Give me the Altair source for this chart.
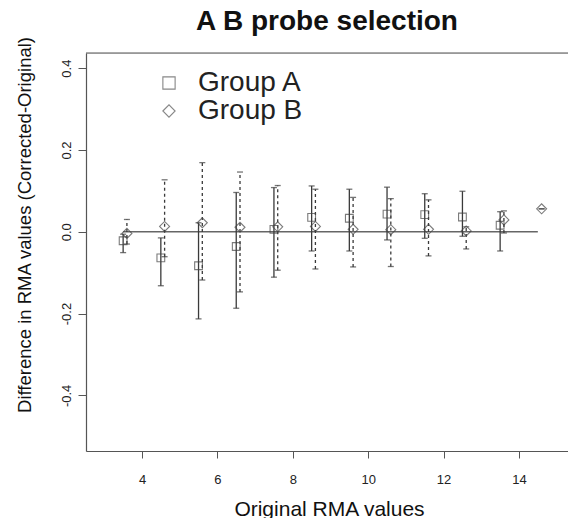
import altair as alt
import pandas as pd

# ---- data ----
xA = [3.5, 4.5, 5.5, 6.5, 7.5, 8.5, 9.5, 10.5, 11.5, 12.5, 13.5]
A_mean = [-0.022, -0.064, -0.083, -0.036, 0.006, 0.035, 0.033, 0.043, 0.042, 0.036, 0.016]
A_low = [-0.051, -0.132, -0.213, -0.187, -0.111, -0.047, -0.047, -0.020, -0.016, -0.011, -0.047]
A_high = [-0.006, -0.015, 0.022, 0.096, 0.108, 0.112, 0.104, 0.109, 0.093, 0.099, 0.049]

xB = [3.6, 4.6, 5.6, 6.6, 7.6, 8.6, 9.6, 10.6, 11.6, 12.6, 13.6, 14.6]
B_mean = [-0.004, 0.013, 0.022, 0.011, 0.012, 0.013, 0.006, 0.005, 0.006, 0.002, 0.029, 0.056]
B_low = [-0.030, -0.061, -0.118, -0.147, -0.094, -0.091, -0.086, -0.085, -0.059, -0.042, -0.003, 0.056]
B_high = [0.030, 0.127, 0.169, 0.146, 0.113, 0.104, 0.084, 0.081, 0.078, 0.012, 0.051, 0.056]

groups = ["Group A", "Group B"]
zero_x0 = [3.5]
zero_x1 = [14.5]
zero_y = [0.0]

x_ticks = [4, 6, 8, 10, 12, 14]
y_ticks = [-0.4, -0.2, 0.0, 0.2, 0.4]

FONT = "Liberation Sans"
LINE = "#3a3a3a"
AXC = "#555555"

dfA = pd.DataFrame({"x": xA, "mean": A_mean, "low": A_low, "high": A_high, "group": groups[0]})
dfB = pd.DataFrame({"x": xB, "mean": B_mean, "low": B_low, "high": B_high, "group": groups[1]})
dfZ = pd.DataFrame({"x0": zero_x0, "x1": zero_x1, "y": zero_y})

xscale = alt.Scale(domain=[2.515, 15.30], nice=False, zero=False)
yscale = alt.Scale(domain=[-0.536, 0.437], nice=False, zero=False)

xaxis = alt.Axis(
    values=x_ticks, grid=False, title="Original RMA values",
    labelFont=FONT, labelFontSize=13, labelColor="#222222", labelPadding=15,
    tickSize=7, tickColor=AXC, domainColor=AXC, domainWidth=1.2,
    titleFont=FONT, titleFontSize=21, titleFontWeight="normal", titleColor="#111111",
    titleY=64, titleBaseline="alphabetic", titleX=243,
)
yaxis = alt.Axis(
    values=y_ticks, grid=False, title="Difference in RMA values (Corrected-Original)",
    labelExpr="replace(format(datum.value, '.1f'), '\u2212', '-')",
    labelFont=FONT, labelFontSize=13, labelColor="#222222", labelPadding=5,
    labelAngle=270, labelAlign="center", labelBaseline="bottom",
    tickSize=8, tickColor=AXC, domainColor=AXC, domainWidth=1.2,
    titleFont=FONT, titleFontSize=18.5, titleFontWeight="normal", titleColor="#111111",
    titleAngle=270, titleX=-62, titleY=171.5, titleAlign="center", titleBaseline="middle",
)

shape_scale = alt.Scale(domain=groups, range=["square", "diamond"])
legend = alt.Legend(
    orient="none", legendX=69, legendY=16, title=None, padding=0, rowPadding=-2,
    labelFont=FONT, labelFontSize=28, labelColor="#222222", labelOffset=15,
    symbolSize=150, symbolStrokeColor="#555555", symbolFillColor="transparent",
    symbolStrokeWidth=1.1,
)

zero = alt.Chart(dfZ).mark_rule(color="#666666", strokeWidth=1.5).encode(
    x=alt.X("x0:Q", scale=xscale, axis=xaxis),
    x2="x1:Q",
    y=alt.Y("y:Q", scale=yscale, axis=yaxis),
)


def bars(df, dash):
    kw = {"strokeDash": dash} if dash else {}
    r = alt.Chart(df).mark_rule(color=LINE, strokeWidth=1.3, **kw).encode(
        x=alt.X("x:Q", scale=xscale, axis=xaxis),
        y=alt.Y("low:Q", scale=yscale, axis=yaxis),
        y2="high:Q",
    )
    caps = alt.Chart(df).transform_fold(["low", "high"], as_=["end", "v"]).mark_tick(
        orient="horizontal", size=6, thickness=1.3, color=LINE
    ).encode(
        x=alt.X("x:Q", scale=xscale, axis=xaxis),
        y=alt.Y("v:Q", scale=yscale, axis=yaxis),
    )
    return r, caps


rA, cA = bars(dfA, None)
rB, cB = bars(dfB, [3, 3])

ptsA = alt.Chart(dfA).mark_point(size=60, filled=False, color="#444444", strokeWidth=1.1).encode(
    x=alt.X("x:Q", scale=xscale, axis=xaxis),
    y=alt.Y("mean:Q", scale=yscale, axis=yaxis),
    shape=alt.Shape("group:N", scale=shape_scale, legend=legend),
)
ptsB = alt.Chart(dfB).mark_point(size=100, filled=False, color="#444444", strokeWidth=1.1).encode(
    x=alt.X("x:Q", scale=xscale, axis=xaxis),
    y=alt.Y("mean:Q", scale=yscale, axis=yaxis),
    shape=alt.Shape("group:N", scale=shape_scale, legend=legend),
)

# top border of the box
top = alt.Chart(dfZ).mark_rule(color=AXC, strokeWidth=1.2).encode(
    x=alt.value(0), x2=alt.value(482), y=alt.value(0)
)

chart = alt.layer(zero, rA, cA, rB, cB, ptsA, ptsB, top).properties(
    width=482, height=398,
    title=alt.TitleParams(
        "A B probe selection", font=FONT, fontSize=28, fontWeight="bold",
        color="#111111", anchor="middle", baseline="alphabetic", offset=6, dy=28,
    ),
    autosize=alt.AutoSizeParams(type="none"),
    padding={"left": 86, "top": 53, "right": 0, "bottom": 67},
).configure_view(stroke=None).configure(background="white")

chart.save("out.html", embed_options={"renderer": "svg", "actions": False})
